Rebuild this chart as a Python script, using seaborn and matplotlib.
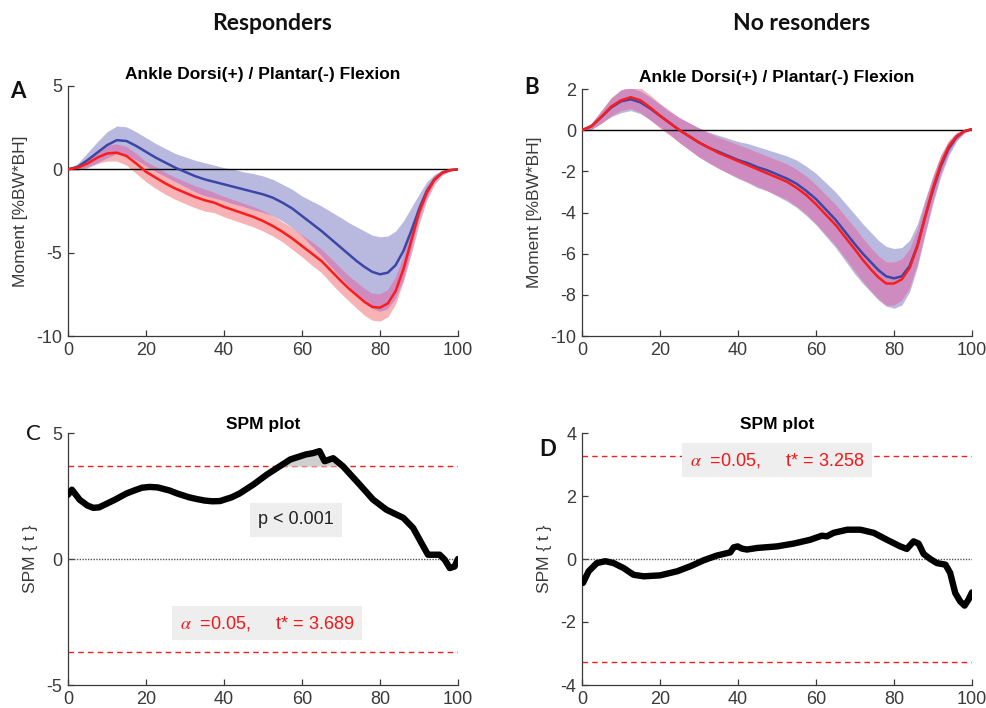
import numpy as np
import pandas as pd
import matplotlib
matplotlib.use("Agg")
import matplotlib.pyplot as plt
import seaborn as sns

# ---------------- data ----------------
pct = [0, 2.5, 5, 7.5, 10, 12.5, 15, 17.5, 20, 22.5, 25, 27.5, 30, 32.5, 35, 37.5,
       40, 42.5, 45, 47.5, 50, 52.5, 55, 57.5, 60, 62.5, 65, 67.5,
       70, 72, 74, 76, 78, 80, 82, 84, 86, 88, 90, 92, 94, 96, 98, 100]

# Panel A (Responders)
a_blue_mean = [0, 0.15, 0.55, 1.0, 1.45, 1.75, 1.7, 1.4, 1.05, 0.7, 0.4, 0.1, -0.15, -0.4,
               -0.6, -0.75, -0.9, -1.05, -1.2, -1.35, -1.5, -1.7, -2.0, -2.35, -2.8, -3.25,
               -3.7, -4.2,
               -4.7, -5.1, -5.5, -5.85, -6.15, -6.3, -6.2, -5.75, -4.9, -3.7, -2.4, -1.3,
               -0.6, -0.2, -0.05, 0]
a_blue_sd = [0, 0.2, 0.45, 0.65, 0.8, 0.85, 0.85, 0.85, 0.85, 0.85, 0.85, 0.85, 0.9, 0.95,
             1.0, 1.0, 1.0, 1.05, 1.05, 1.1, 1.1, 1.1, 1.1, 1.15, 1.2, 1.35, 1.5, 1.65,
             1.8, 1.9, 2.05, 2.15, 2.2, 2.25, 2.2, 2.05, 1.8, 1.4, 0.9, 0.55, 0.3, 0.15,
             0.05, 0]
a_red_mean = [0, 0.1, 0.35, 0.7, 0.95, 1.0, 0.8, 0.35, -0.15, -0.5, -0.85, -1.15, -1.4,
              -1.65, -1.85, -2.0, -2.25, -2.45, -2.65, -2.85, -3.1, -3.4, -3.75, -4.15,
              -4.6, -5.05, -5.5, -6.1,
              -6.7, -7.15, -7.55, -7.95, -8.25, -8.3, -8.05, -7.3, -6.0, -4.3, -2.6,
              -1.4, -0.6, -0.2, -0.05, 0]
a_red_sd = [0, 0.1, 0.25, 0.35, 0.45, 0.5, 0.55, 0.6, 0.6, 0.65, 0.65, 0.65, 0.65, 0.65,
            0.65, 0.6, 0.6, 0.6, 0.6, 0.6, 0.6, 0.6, 0.6, 0.65, 0.65, 0.7, 0.7, 0.75,
            0.75, 0.75, 0.78, 0.8, 0.8, 0.8, 0.8, 0.78, 0.7, 0.6, 0.45, 0.35, 0.2, 0.1,
            0.05, 0]

# Panel B (No responders)
b_blue_mean = [0, 0.2, 0.65, 1.1, 1.4, 1.5, 1.35, 1.05, 0.7, 0.35, 0.0, -0.3, -0.6, -0.85,
               -1.05, -1.25, -1.45, -1.6, -1.8, -1.95, -2.15, -2.35, -2.6, -2.95, -3.35,
               -3.85, -4.35, -4.95,
               -5.55, -6.0, -6.4, -6.8, -7.1, -7.2, -7.1, -6.6, -5.6, -4.2, -2.9, -1.75,
               -0.9, -0.35, -0.05, 0.05]
b_blue_sd = [0, 0.15, 0.3, 0.45, 0.55, 0.55, 0.55, 0.55, 0.55, 0.55, 0.6, 0.65, 0.7, 0.75,
             0.8, 0.85, 0.9, 0.95, 1.0, 1.0, 1.05, 1.1, 1.15, 1.2, 1.25, 1.3, 1.35, 1.4,
             1.45, 1.45, 1.45, 1.45, 1.45, 1.45, 1.4, 1.25, 1.05, 0.85, 0.65, 0.5, 0.35,
             0.2, 0.08, 0]
b_red_mean = [0, 0.2, 0.65, 1.15, 1.45, 1.6, 1.45, 1.1, 0.7, 0.35, 0.0, -0.3, -0.6, -0.85,
              -1.1, -1.3, -1.5, -1.7, -1.9, -2.1, -2.3, -2.5, -2.8, -3.15, -3.6, -4.1,
              -4.6, -5.2,
              -5.8, -6.3, -6.75, -7.15, -7.45, -7.45, -7.25, -6.7, -5.65, -4.2, -2.8,
              -1.65, -0.8, -0.3, -0.05, 0.05]
b_red_sd = [0, 0.15, 0.3, 0.45, 0.5, 0.55, 0.6, 0.6, 0.6, 0.6, 0.6, 0.65, 0.7, 0.72, 0.75,
            0.78, 0.8, 0.82, 0.83, 0.84, 0.85, 0.87, 0.9, 0.92, 0.95, 0.97, 1.0, 1.02,
            1.05, 1.05, 1.05, 1.05, 1.05, 1.05, 1.0, 0.95, 0.85, 0.75, 0.6, 0.45, 0.3,
            0.18, 0.08, 0]

# Panel C SPM{t} (Responders)
c_x = [0, 1, 3, 5, 6.5, 8, 10, 12, 15, 17, 19, 21, 23, 26, 28, 31, 33, 35, 37, 39, 42,
       44, 47.5, 51, 53, 55, 57, 59, 61, 62.8, 64.5, 65.8, 68, 70.5, 74.8, 78.2, 81.6,
       86, 88.5, 90.6, 92.3, 95.3, 96.6, 97.9, 99.1, 100]
c_t = [2.55, 2.75, 2.35, 2.12, 2.03, 2.05, 2.2, 2.35, 2.6, 2.72, 2.83, 2.86, 2.84, 2.72,
       2.6, 2.45, 2.38, 2.32, 2.29, 2.3, 2.45, 2.6, 2.95, 3.35, 3.55, 3.75, 3.95, 4.05,
       4.15, 4.2, 4.28, 3.88, 4.0, 3.68, 2.95, 2.36, 1.96, 1.63, 1.23, 0.64, 0.17, 0.17,
       -0.03, -0.36, -0.3, 0.0]
c_thresh = 3.689

# Panel D SPM{t} (No responders)
d_x = [0.25, 1.7, 3.8, 6, 8.1, 10.7, 13.2, 15.8, 20, 24.4, 27.8, 31.2, 34.6, 38, 38.9,
       39.9, 41, 42.3, 44.9, 50, 54.3, 58.5, 61.5, 62.8, 64.5, 68, 71.4, 74.8, 78.2,
       81.6, 83.3, 85, 86.3, 87.6, 89.3, 91, 93.2, 94.4, 95.7, 97, 98.1, 99.1, 100]
d_t = [-0.76, -0.39, -0.13, -0.07, -0.13, -0.29, -0.5, -0.55, -0.52, -0.39, -0.23, -0.04,
       0.11, 0.21, 0.37, 0.4, 0.33, 0.3, 0.35, 0.4, 0.49, 0.61, 0.74, 0.72, 0.83, 0.93,
       0.93, 0.83, 0.61, 0.4, 0.32, 0.56, 0.49, 0.16, 0.0, -0.13, -0.18, -0.44, -1.08,
       -1.35, -1.48, -1.29, -1.06]
d_thresh = 3.258

group_titles = ["Responders", "No resonders"]
moment_title = "Ankle Dorsi(+) / Plantar(-) Flexion"
spm_title = "SPM plot"

# ---------------- style ----------------
sns.set_theme(style="white")
plt.rcParams["font.family"] = ["Liberation Sans", "DejaVu Sans"]
plt.rcParams["mathtext.fontset"] = "stix"
plt.rcParams["axes.unicode_minus"] = False

BLUE_LINE = "#3b47a6"
RED_LINE = "#fb1c1c"
BLUE_BAND = "#b9b9df"
RED_BAND = "#f6b2b4"
OVERLAP = "#cd8bbf"
AX_COL = "#3a3a3a"

fig = plt.figure(figsize=(9.87, 7.08), dpi=100)
W, H = 987.0, 708.0


def add_ax(l, t, r, b):
    return fig.add_axes([l / W, 1 - b / H, (r - l) / W, (b - t) / H])


axA = add_ax(68, 86, 458, 336)
axB = add_ax(582, 89, 972, 336)
axC = add_ax(68, 433, 458, 685)
axD = add_ax(582, 433, 972, 685)


def style_ax(ax):
    for s in ["top", "right"]:
        ax.spines[s].set_visible(False)
    for s in ["left", "bottom"]:
        ax.spines[s].set_color(AX_COL)
        ax.spines[s].set_linewidth(0.9)
    ax.tick_params(direction="in", length=4, width=0.9, colors=AX_COL,
                   labelsize=13, left=True, bottom=True)
    ax.tick_params(axis="x", pad=4)
    ax.tick_params(axis="y", pad=4)
    ax.set_xlim(0, 100)
    ax.set_xticks([0, 20, 40, 60, 80, 100])
    ax.grid(False)


def moment_panel(ax, bm, bs, rm, rs, ylim, yticks):
    x = np.array(pct)
    bm, bs, rm, rs = map(np.array, (bm, bs, rm, rs))
    b_lo, b_hi = bm - bs, bm + bs
    r_lo, r_hi = rm - rs, rm + rs
    ax.fill_between(x, b_lo, b_hi, color=BLUE_BAND, lw=0, zorder=1)
    ax.fill_between(x, r_lo, r_hi, color=RED_BAND, lw=0, zorder=1.1)
    o_lo = np.maximum(b_lo, r_lo)
    o_hi = np.minimum(b_hi, r_hi)
    ax.fill_between(x, o_lo, o_hi, where=o_hi > o_lo, interpolate=True,
                    color=OVERLAP, lw=0, zorder=1.2)
    ax.axhline(0, color="black", lw=1.0, zorder=2)
    df = pd.DataFrame({"pct": x, "blue": bm, "red": rm})
    sns.lineplot(data=df, x="pct", y="blue", color=BLUE_LINE, lw=1.8, ax=ax, zorder=3,
                 solid_joinstyle="round")
    sns.lineplot(data=df, x="pct", y="red", color=RED_LINE, lw=1.8, ax=ax, zorder=4,
                 solid_joinstyle="round")
    style_ax(ax)
    ax.set_ylim(*ylim)
    ax.set_yticks(yticks)
    ax.set_xlabel("")
    ax.set_ylabel("Moment [%BW*BH]", fontsize=12.5, color=AX_COL)
    ax.yaxis.set_label_coords(-0.103, 0.5)
    ax.set_title(moment_title, fontsize=12.5, fontweight="bold", color="black", pad=5)


def spm_panel(ax, xs, ts, thr, ylim, yticks, label_pos, show_p):
    style_ax(ax)
    ax.set_ylim(*ylim)
    ax.set_yticks(yticks)
    ax.axhline(0, color="#555555", lw=1.0, ls=(0, (1, 1)), zorder=1)
    ax.axhline(thr, color="#f02020", lw=1.0, ls=(0, (4, 3)), zorder=1)
    ax.axhline(-thr, color="#f02020", lw=1.0, ls=(0, (4, 3)), zorder=1)
    xs_a, ts_a = np.array(xs), np.array(ts)
    ax.fill_between(xs_a, thr, ts_a, where=ts_a > thr, interpolate=True,
                    color="#cfcfcf", lw=0, zorder=1.5)
    df = pd.DataFrame({"x": xs_a, "t": ts_a})
    sns.lineplot(data=df, x="x", y="t", color="black", lw=4.6, ax=ax, zorder=3,
                 solid_capstyle="round", solid_joinstyle="round")
    ax.set_xlabel("")
    ax.set_ylabel("SPM { t }", fontsize=12.5, color=AX_COL)
    ax.yaxis.set_label_coords(-0.077, 0.5)
    ax.set_title(spm_title, fontsize=12.5, fontweight="bold", color="black", pad=3)
    ax.text(label_pos[0], label_pos[1],
            r"$\alpha$  =0.05,     t* = %.3f" % thr, color="#f01818", fontsize=13,
            ha="center", va="center", zorder=5,
            bbox=dict(boxstyle="square,pad=0.42", fc="#eeeeee", ec="none"))
    if show_p:
        ax.text(58.5, 1.55, "p < 0.001", color="#222222", fontsize=13, ha="center",
                va="center", zorder=5,
                bbox=dict(boxstyle="square,pad=0.45", fc="#eeeeee", ec="none"))


moment_panel(axA, a_blue_mean, a_blue_sd, a_red_mean, a_red_sd, (-10, 5), [-10, -5, 0, 5])
moment_panel(axB, b_blue_mean, b_blue_sd, b_red_mean, b_red_sd, (-10, 2),
             [-10, -8, -6, -4, -2, 0, 2])
spm_panel(axC, c_x, c_t, c_thresh, (-5, 5), [-5, 0, 5], (51, -2.55), True)
spm_panel(axD, d_x, d_t, d_thresh, (-4, 4), [-4, -2, 0, 2, 4], (50, 3.14), False)

# group titles
fig.text(272 / W, 1 - 23 / H, group_titles[0], fontsize=16.5, fontweight="bold",
         family=["Lato", "DejaVu Sans"], ha="center", va="center", color="#111111")
fig.text(802 / W, 1 - 23 / H, group_titles[1], fontsize=16.5, fontweight="bold",
         family=["Lato", "DejaVu Sans"], ha="center", va="center", color="#111111")

# panel letters
for lab, px, py, wt in [("A", 18, 92, "bold"), ("B", 532, 88, "bold"),
                        ("C", 33, 434, "normal"), ("D", 548, 449, "bold")]:
    fig.text(px / W, 1 - py / H, lab, fontsize=16, fontweight=wt,
             family=["Lato", "DejaVu Sans"], ha="center", va="center", color="#111111")

fig.savefig("out.png", dpi=100)
